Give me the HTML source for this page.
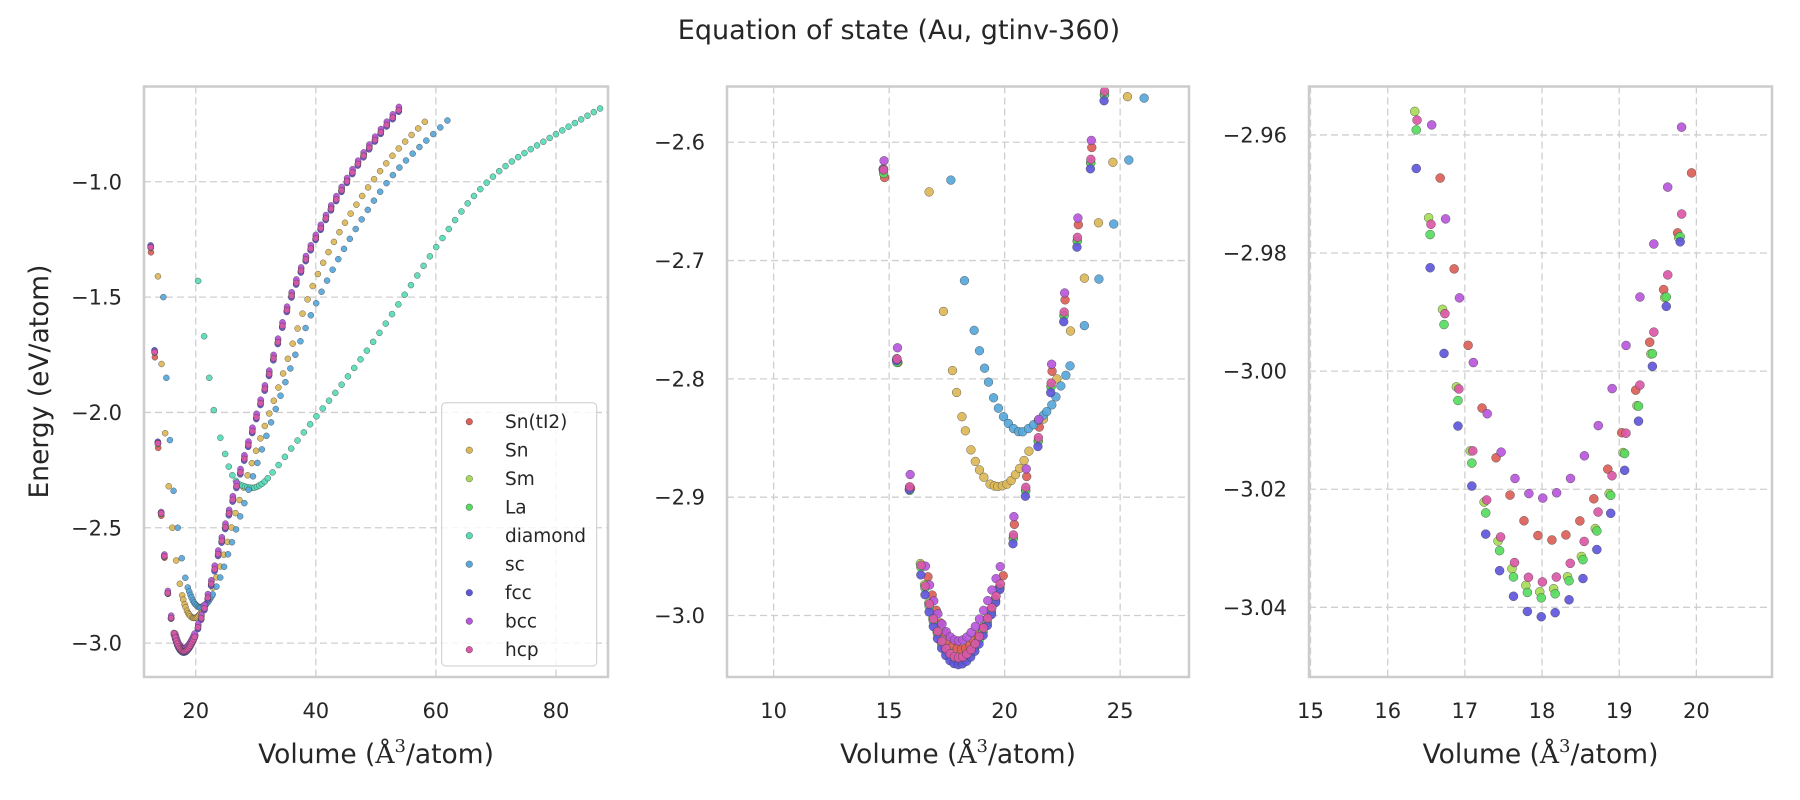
<!DOCTYPE html>
<html><head><meta charset="utf-8">
<style>
html,body{margin:0;padding:0;background:#fff;}
svg{display:block;}
text{font-family:"DejaVu Sans","Liberation Sans",sans-serif;fill:#262626;}
</style></head>
<body>
<svg id="s" width="1800" height="800" viewBox="0 0 1800 800" xmlns="http://www.w3.org/2000/svg">
<rect width="1800" height="800" fill="#fff"/>
<text x="899" y="39" font-size="27" text-anchor="middle">Equation of state (Au, gtinv-360)</text>
<text transform="translate(48,381.5) rotate(-90)" font-size="26.5" text-anchor="middle">Energy (eV/atom)</text>
<g id="g"></g>
</svg>
<script>
(function(){
var NS="http://www.w3.org/2000/svg";
var G=document.getElementById('g');
function el(t,a,p){var e=document.createElementNS(NS,t);for(var k in a)e.setAttribute(k,a[k]);(p||G).appendChild(e);return e;}
function mono(xs,ys){var n=xs.length,d=[],m=[];for(var i=0;i<n-1;i++)d.push((ys[i+1]-ys[i])/(xs[i+1]-xs[i]));
m[0]=d[0];m[n-1]=d[n-2];for(i=1;i<n-1;i++){m[i]=(d[i-1]*d[i]<=0)?0:2/(1/d[i-1]+1/d[i]);}
return function(x){var k=0;if(x<=xs[0])return ys[0]+d[0]*(x-xs[0]);if(x>=xs[n-1])return ys[n-1]+d[n-2]*(x-xs[n-1]);
while(k<n-2&&x>xs[k+1])k++;var h=xs[k+1]-xs[k],t=(x-xs[k])/h,t2=t*t,t3=t2*t;
return (2*t3-3*t2+1)*ys[k]+(t3-2*t2+t)*h*m[k]+(-2*t3+3*t2)*ys[k+1]+(t3-t2)*h*m[k+1];};}
function cub(V0,E0,a,b){return function(v){var d=v-V0;return E0+a*d*d+b*d*d*d;};}
var fccC=cub(18.0,-3.0416,0.0244,-0.00256);
var fx=[12.5,13.2,13.7,14.2,14.73,15.3,15.85],fy=[-1.29,-1.78,-2.14,-2.43,-2.62,-2.78,-2.89];
for(var v=16.2;v<=22.01;v+=0.4){fx.push(v);fy.push(fccC(v));}
[[22.6,-2.747],[23.1,-2.692],[23.6,-2.634],[24.16,-2.579],[26,-2.40],[28.5,-2.17],[32,-1.86],[36.1,-1.49],[40,-1.25],[46,-0.97],[50,-0.82],[54,-0.69]].forEach(function(p){fx.push(p[0]);fy.push(p[1]);});
var far=mono(fx,fy);
function grid(s,step,end,pw,ref){var a=[],v=s;while(v<=end){a.push(v);v+=step*Math.pow(v/ref,pw);}return a;}
var wideL=[12.5,13.15,13.7,14.23,14.76,15.34,15.89];
var wideR=grid(20.38,0.535,54.2,2/3,20.38);
var cols=["#db5f57","#dbb757","#a7db57","#57db5f","#57dbb7","#57a7db","#5f57db","#b757db","#db57a7"];
var names=["Sn(tI2)","Sn","Sm","La","diamond","sc","fcc","bcc","hcp"];
var data=[];
function mainS(cf,off,jit,d0,dstep,dn){var pts=[];
 wideL.concat(wideR).forEach(function(v){v+=jit;pts.push([v,far(v)+off]);});
 for(var i=0;i<dn;i++){var v=d0+dstep*i;pts.push([v,cf(v)]);}
 return pts;}
var S={};
S.SnT=mainS(cub(18.12,-3.0286,0.02481,-0.0033),0.012,0.04,16.68,0.181,19);
S.Sm=mainS(cub(18.0,-3.0374,0.02471,-0.00314),0.004,-0.01,16.35,0.18,20);
S.La=mainS(cub(18.0,-3.0384,0.02471,-0.00314),0.003,0.0,16.37,0.18,20);
S.fcc=mainS(fccC,0.0,-0.02,16.37,0.18,20);
S.bcc=mainS(cub(18.0,-3.0215,0.02574,-0.00361),0.02,0.02,16.57,0.1799,19);
S.hcp=mainS(cub(18.0,-3.0357,0.02471,-0.00314),0.006,0.0,16.38,0.1805,20);
function fromAnch(an,vs){var f=mono(an.map(function(p){return p[0]}),an.map(function(p){return p[1]}));return vs.map(function(v){return [v,f(v)];});}
var snA=[[13.7,-1.41],[14.3,-1.79],[14.9,-2.09],[15.5,-2.32],[16.1,-2.50],[16.73,-2.642],[17.35,-2.743],[17.74,-2.793],[18.15,-2.832],[18.54,-2.86],[18.91,-2.877],[19.37,-2.889],[19.7,-2.891],[20.1,-2.889],[20.47,-2.881],[20.84,-2.869],[21.68,-2.834],[22.26,-2.80],[22.83,-2.761],[23.41,-2.718],[24.0,-2.673],[24.6,-2.624],[25.18,-2.574],[26.8,-2.42],[30,-2.17],[33.4,-1.92],[40,-1.42],[46,-1.13],[53,-0.88],[59.1,-0.715]];
S.Sn=fromAnch(snA,[13.7,14.3,14.9,15.5,16.1,16.73,17.35,17.74,17.92,18.15,18.3,18.54,18.73,18.91,19.1,19.37,19.55,19.7,19.9,20.1,20.28,20.47,20.65,20.84,21.05].concat(grid(21.68,0.58,59.2,2/3,21.68)));
var scA=[[14.6,-1.50],[15.1,-1.85],[15.7,-2.12],[16.3,-2.34],[17.0,-2.50],[17.67,-2.632],[18.26,-2.717],[18.68,-2.759],[19.13,-2.791],[19.52,-2.816],[19.95,-2.832],[20.38,-2.842],[20.7,-2.845],[21.03,-2.842],[21.46,-2.835],[22.04,-2.822],[22.43,-2.806],[22.83,-2.789],[23.45,-2.755],[24.09,-2.715],[24.71,-2.670],[25.3,-2.621],[25.96,-2.569],[26.8,-2.50],[30,-2.24],[33.4,-1.98],[40,-1.53],[47,-1.19],[53.2,-0.96],[62.1,-0.73]];
S.sc=fromAnch(scA,[14.6,15.1,15.7,16.3,17.0,17.67,18.26,18.68,18.91,19.13,19.3,19.52,19.73,19.95,20.16,20.38,20.6,20.78,21.03,21.25,21.46,21.68,21.82,22.04,22.22,22.43,22.65,22.83].concat(grid(23.45,0.63,62.2,2/3,23.45)));
var diA=[[20.4,-1.43],[21.4,-1.67],[22.25,-1.85],[23.0,-1.99],[24.1,-2.11],[24.9,-2.18],[25.5,-2.235],[26.5,-2.29],[27.5,-2.315],[29.5,-2.327],[31,-2.31],[32.8,-2.26],[36.1,-2.15],[40,-2.02],[44,-1.89],[50.6,-1.655],[55.8,-1.45],[60.4,-1.27],[66.4,-1.06],[71.7,-0.93],[79.6,-0.80],[87.5,-0.68]];
var dv=[20.4,21.4,22.25,23.0,24.1,24.9,25.5,26.1,26.7,27.3,27.8,28.2,28.6,29.0,29.4,29.8,30.2,30.6,31.0,31.5,32.0,32.8];
for(var v=33.8;v<=87.6;v+=1.05)dv.push(v);
S.dia=fromAnch(diA,dv);
var order=[S.SnT,S.Sn,S.Sm,S.La,S.dia,S.sc,S.fcc,S.bcc,S.hcp];
var P=[
{x0:144,x1:608,xmin:11.38,xmax:88.67,ymin:-3.147,ymax:-0.587,xt:[20,40,60,80],yt:[-1.0,-1.5,-2.0,-2.5,-3.0],fd:1,r:3},
{x0:727,x1:1189,xmin:7.98,xmax:27.98,ymin:-3.052,ymax:-2.5529,xt:[10,15,20,25],yt:[-2.6,-2.7,-2.8,-2.9,-3.0],fd:1,r:4.4},
{x0:1309,x1:1772,xmin:14.98,xmax:20.98,ymin:-3.0518,ymax:-2.9518,xt:[15,16,17,18,19,20],yt:[-2.96,-2.98,-3.00,-3.02,-3.04],fd:2,r:4.5}];
var y0=86.5,y1=677;
var defs=el('defs',{});
P.forEach(function(p,pi){
 function X(v){return p.x0+(v-p.xmin)/(p.xmax-p.xmin)*(p.x1-p.x0);}
 function Y(e){return y1-(e-p.ymin)/(p.ymax-p.ymin)*(y1-y0);}
 var cp=el('clipPath',{id:'c'+pi},defs);el('rect',{x:p.x0,y:y0,width:p.x1-p.x0,height:y1-y0},cp);
 p.xt.forEach(function(t){var x=X(t);el('line',{x1:x,x2:x,y1:y0,y2:y1,stroke:'#cfcfcf','stroke-width':1.3,'stroke-dasharray':'7,4'});
  var tx=el('text',{x:x,y:718,'font-size':21,'text-anchor':'middle'});tx.textContent=String(t);});
 p.yt.forEach(function(t){var y=Y(t);el('line',{x1:p.x0,x2:p.x1,y1:y,y2:y,stroke:'#cfcfcf','stroke-width':1.3,'stroke-dasharray':'7,4'});
  var tx=el('text',{x:p.x0-22,y:y+7.5,'font-size':21,'text-anchor':'end'});tx.textContent='\u2212'+Math.abs(t).toFixed(p.fd);});
 var g=el('g',{'clip-path':'url(#c'+pi+')'});
 order.forEach(function(pts,si){pts.forEach(function(q){
  var x=X(q[0]),y=Y(q[1]);if(x<p.x0-6||x>p.x1+6||y<y0-6||y>y1+6)return;
  el('circle',{cx:x.toFixed(2),cy:y.toFixed(2),r:p.r,fill:cols[si],'fill-opacity':0.92,stroke:'#3a3a3a','stroke-opacity':0.75,'stroke-width':0.5},g);});});
 el('rect',{x:p.x0,y:y0,width:p.x1-p.x0,height:y1-y0,fill:'none',stroke:'#cccccc','stroke-width':2.5});
 var xl=el('text',{x:(p.x0+p.x1)/2,y:763,'font-size':26.5,'text-anchor':'middle'});
 xl.appendChild(document.createTextNode('Volume ('));
 var t1=el('tspan',{'font-family':'DejaVu Serif, Liberation Serif, serif'},xl);t1.textContent='\u00C5';
 var t2=el('tspan',{'font-family':'DejaVu Serif, Liberation Serif, serif','font-size':18,dy:-11},xl);t2.textContent='3';
 var t3=el('tspan',{dy:11},xl);t3.textContent='/atom)';
});
// legend
el('rect',{x:441.7,y:402.7,width:155,height:263.3,rx:4,fill:'#fff','fill-opacity':0.8,stroke:'#cccccc','stroke-width':1});
names.forEach(function(n,i){var y=421.7+i*28.5;
 el('circle',{cx:469.3,cy:y,r:3.3,fill:cols[i],stroke:'#3a3a3a','stroke-opacity':0.75,'stroke-width':0.5});
 var t=el('text',{x:505,y:y+6.5,'font-size':18.5});t.textContent=n;});
})();
</script>
</body></html>
